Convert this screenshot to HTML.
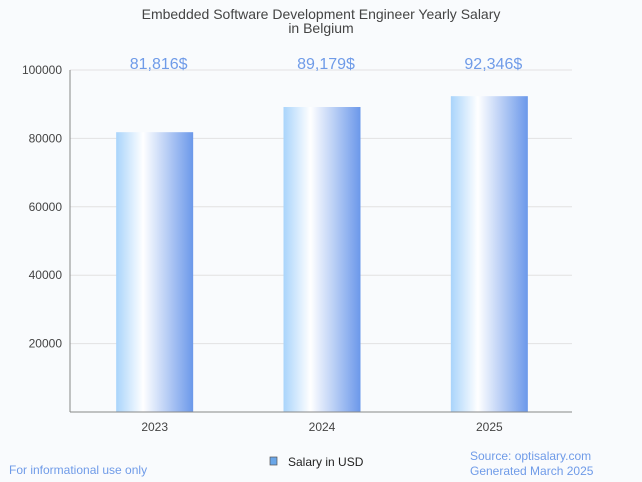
<!DOCTYPE html>
<html><head><meta charset="utf-8"><style>
body{margin:0;background:#f9fbfd;}
svg{display:block;font-family:"Liberation Sans",sans-serif;}
</style></head><body>
<svg id="c" width="642" height="482">
<defs><linearGradient id="g" x1="0" x2="1" y1="0" y2="0">
<stop offset="0" stop-color="#a9d4fb"/><stop offset="0.35" stop-color="#ffffff"/><stop offset="1" stop-color="#6b98ea"/>
</linearGradient></defs>
<rect width="642" height="482" fill="#f9fbfd"/>
<text x="321" y="19" text-anchor="middle" font-size="14" fill="#444">Embedded Software Development Engineer Yearly Salary</text>
<text x="321" y="33" text-anchor="middle" font-size="14" fill="#444">in Belgium</text>
<g id="grid"></g><g id="bars"></g>
<line x1="70" y1="70" x2="70" y2="412" stroke="#888"/>
<line x1="70" y1="412" x2="572" y2="412" stroke="#888"/>
<rect x="270" y="457" width="7" height="8" fill="#6aa6e8" stroke="#555" stroke-width="0.7"/>
<text x="288" y="466" font-size="12" fill="#222">Salary in USD</text>
<text x="9" y="474" font-size="12" fill="#6f9be8">For informational use only</text>
<text x="470" y="460" font-size="12" fill="#6f9be8">Source: optisalary.com</text>
<text x="470" y="475" font-size="12" fill="#6f9be8">Generated March 2025</text>
</svg>
<script>
const categories=["2023","2024","2025"];
const values=[81816,89179,92346];
const valueLabels=["81,816$","89,179$","92,346$"];
const yTicks=[20000,40000,60000,80000,100000];
const NS="http://www.w3.org/2000/svg";
const x0=70,x1=572,yTop=70,yBot=412,yMax=100000;
const y=v=>yBot-(v/yMax)*(yBot-yTop);
const bw=(x1-x0)/categories.length;
const xc=i=>x0+bw*(i+0.5)+1;
function mk(t,a,p){const e=document.createElementNS(NS,t);for(const k in a)e.setAttribute(k,a[k]);p.appendChild(e);return e;}
const grid=document.getElementById('grid'),bars=document.getElementById('bars');
yTicks.forEach(v=>{
 const l=mk('line',{x1:x0,x2:x1,y1:y(v),y2:y(v),stroke:'#e2e2e2'},grid);
 
 
 const t=mk('text',{x:62,y:y(v)+4,'text-anchor':'end','font-size':12,fill:'#444'},grid);
 t.textContent=v;
 
 
});
categories.forEach((c,i)=>{
 const r=mk('rect',{x:xc(i)-38.5,y:y(values[i]),width:77,height:yBot-y(values[i]),fill:'url(#g)'},bars);
 
 
 const t=mk('text',{x:xc(i),y:431,'text-anchor':'middle','font-size':12,fill:'#444'},bars);
 t.textContent=c;
 
 
 const v=mk('text',{x:xc(i)+4,y:69,'text-anchor':'middle','font-size':16,fill:'#6f9be8'},bars);
 v.textContent=valueLabels[i];
 
 
});
</script>
</body></html>
